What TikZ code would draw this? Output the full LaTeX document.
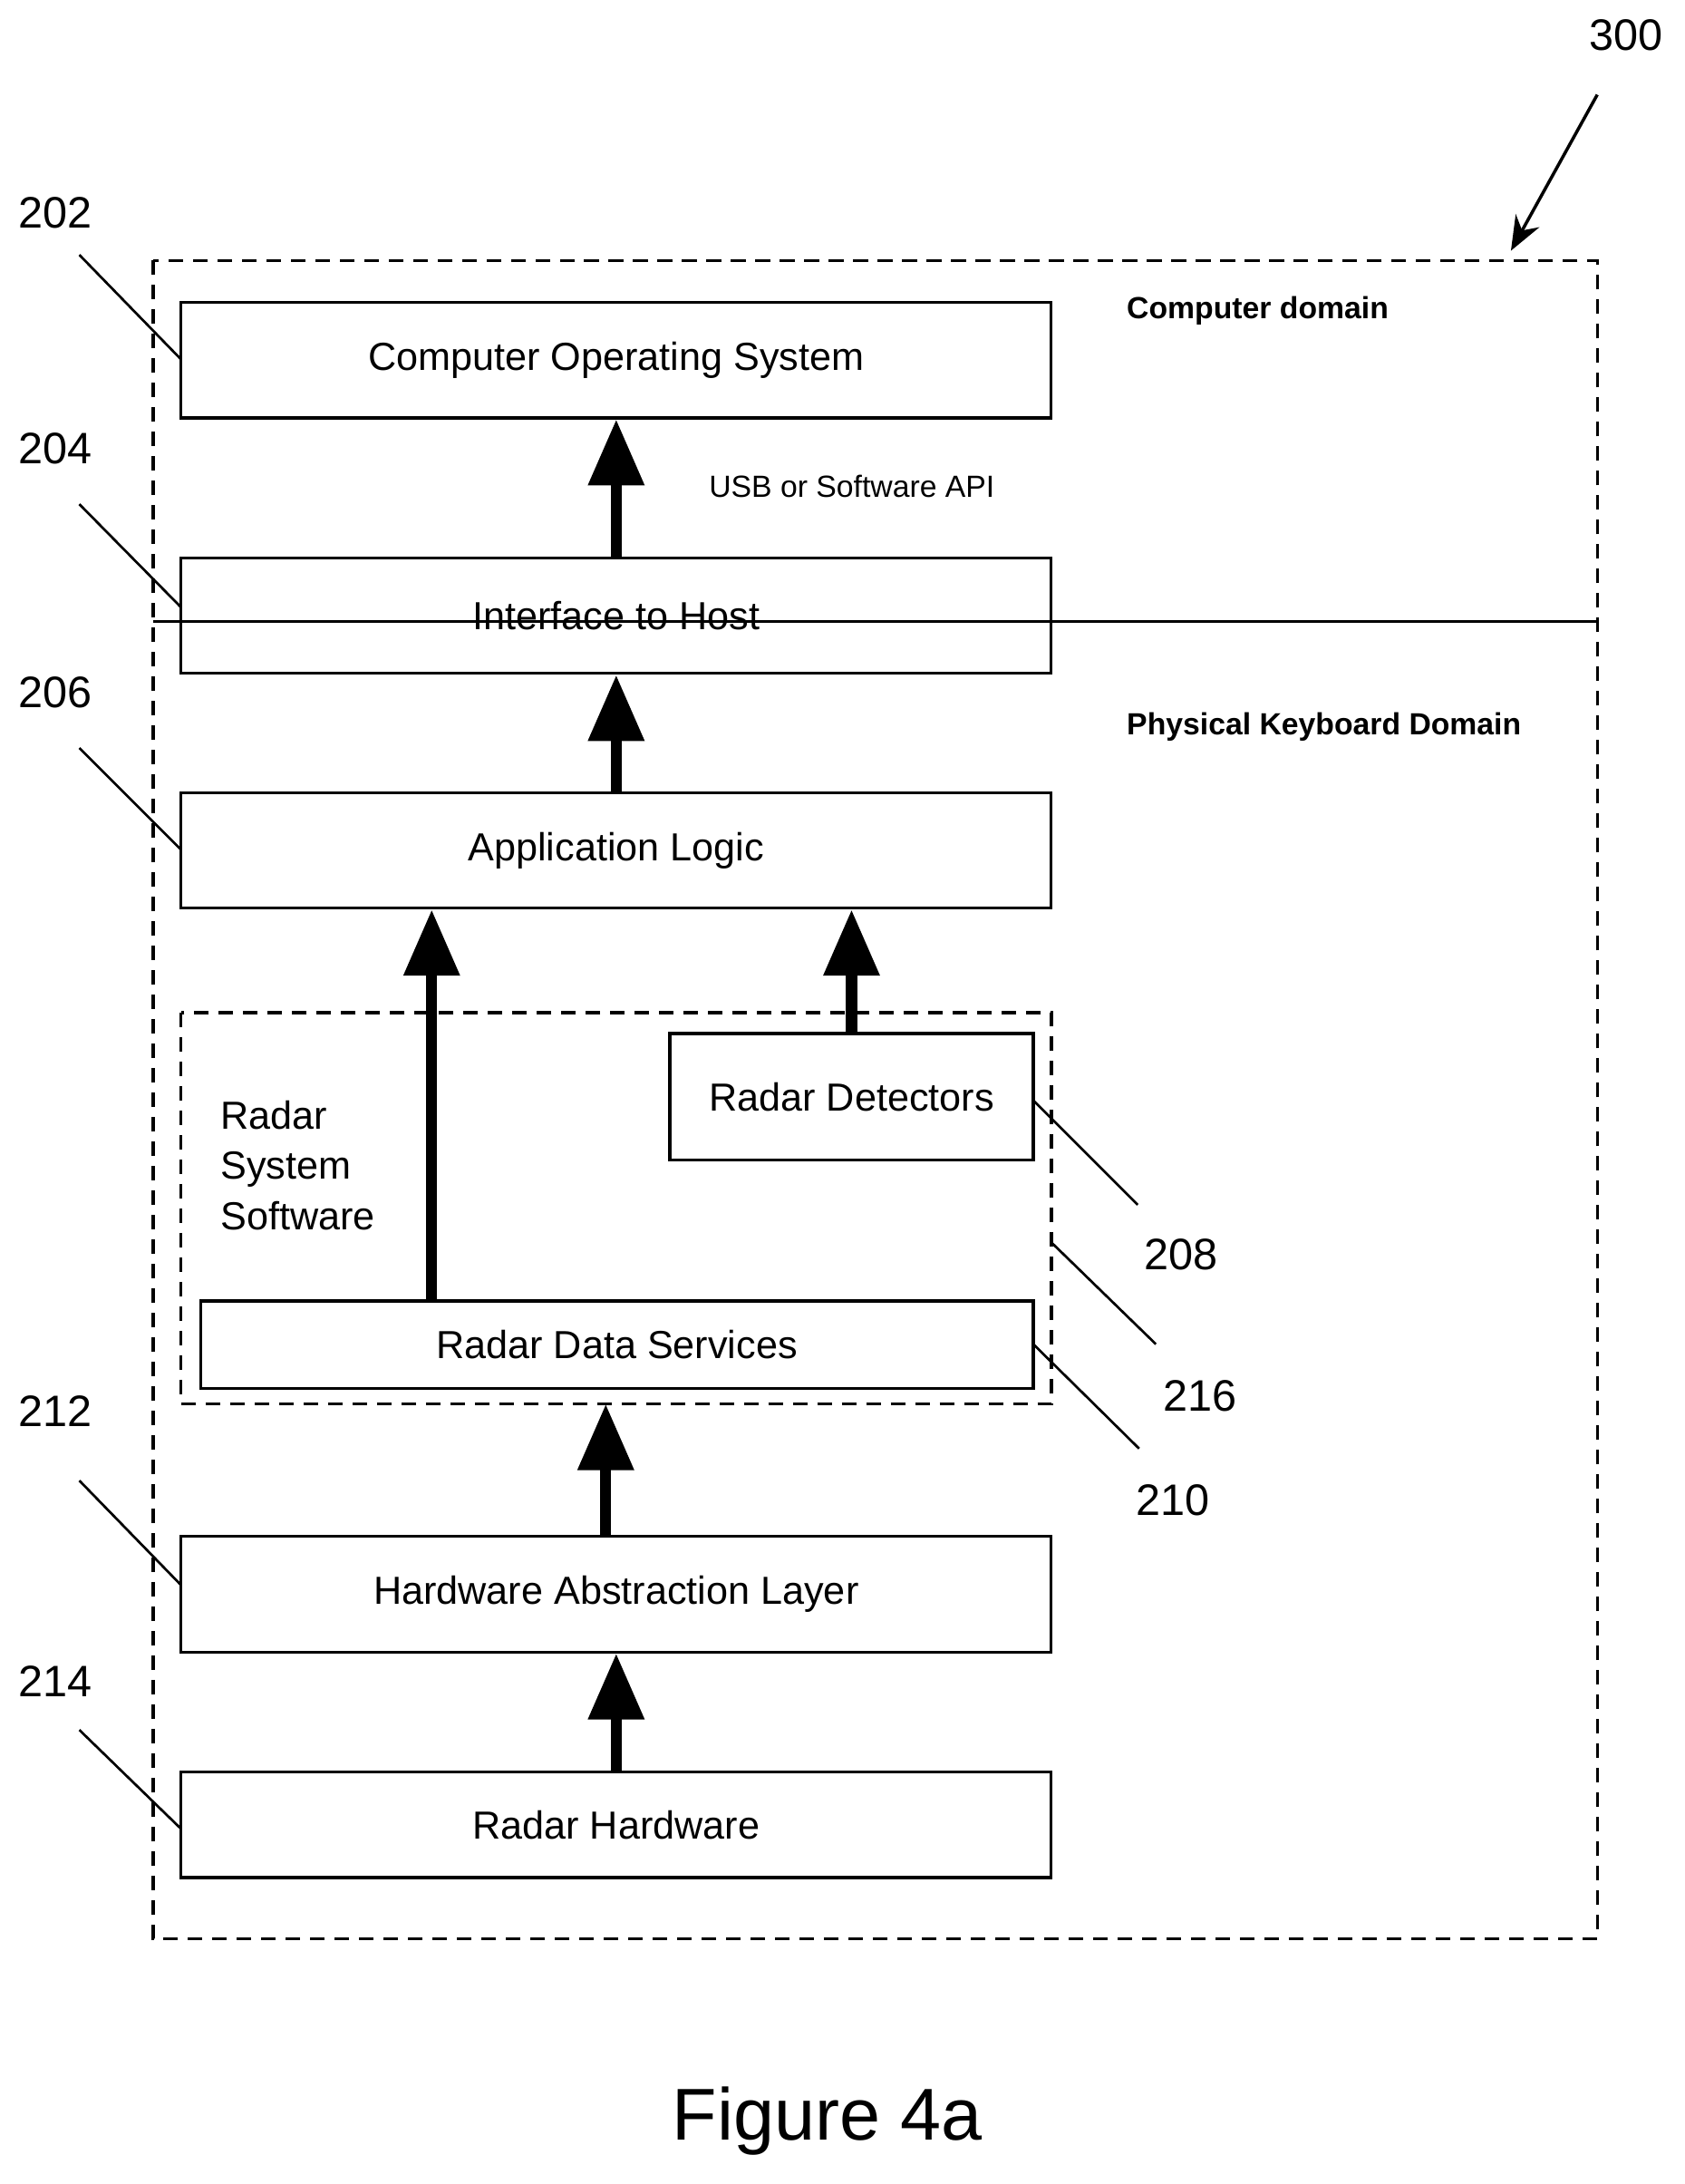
\documentclass[tikz,border=0pt]{standalone}
\usepackage{fontspec}
\setmainfont{Liberation Sans}
\usetikzlibrary{arrows.meta}
\begin{document}
\begin{tikzpicture}[x=0.02cm,y=-0.02cm,
 box/.style={draw,line width=1.2pt,minimum width=12.5cm,minimum height=1.66cm,inner sep=0pt,font=\fontsize{16}{19}\selectfont},
 dashbox/.style={draw,line width=1.2pt,dash pattern=on 6pt off 4pt},
 big/.style={line width=4.5pt,-{Triangle[width=22pt,length=27pt]}},
 lead/.style={line width=1pt},
 num/.style={font=\fontsize{18}{20}\selectfont,inner sep=0pt}]
\useasboundingbox (0,0) rectangle (1210,1568);
\draw[dashbox] (110,187) rectangle (1147,1392);
\draw[line width=1.2pt] (110,446) -- (1147,446);
\draw[dashbox] (130,727) rectangle (755,1008);
\node[box] (cos) at (442.5,258.5) {Computer Operating System};
\node[box] (ih) at (442.5,442) {Interface to Host};
\node[box] (al) at (442.5,610.5) {Application Logic};
\node[box,minimum width=5.22cm,minimum height=1.82cm] (rd) at (611.5,787.5) {Radar Detectors};
\node[box,minimum width=11.96cm,minimum height=1.26cm] (rds) at (443,965.5) {Radar Data Services};
\node[box] (hal) at (442.5,1144.5) {Hardware Abstraction Layer};
\node[box,minimum height=1.52cm] (rh) at (442.5,1310) {Radar Hardware};
\draw[big] (ih.north) -- (cos.south);
\draw[big] (al.north) -- (ih.south);
\draw[big] (rds.north -| 310,0) -- (al.south -| 310,0);
\draw[big] (rd.north) -- (al.south -| rd.north);
\draw[big] (hal.north -| 435,0) -- (435,1008);
\draw[big] (rh.north) -- (hal.south);
\node[anchor=west,font=\bfseries\fontsize{12.5}{14}\selectfont] (cd) at (803,223) {Computer domain};
\node[anchor=west,font=\bfseries\fontsize{12.5}{14}\selectfont] (pk) at (803,522) {Physical Keyboard Domain};
\node[anchor=west,font=\fontsize{12.5}{14}\selectfont] (usb) at (503,349) {USB or Software API};
\node[anchor=north west,align=left,inner sep=0pt,font=\fontsize{16}{20.5}\selectfont] (rss) at (158,790) {Radar\\System\\Software};
\node[num] (n202) at (40,153) {202}; \coordinate (c202) at (57,183); \draw[lead] (c202) -- (130,258);
\node[num] (n204) at (40,322) {204}; \coordinate (c204) at (57,362); \draw[lead] (c204) -- (130,436);
\node[num] (n206) at (40,497) {206}; \coordinate (c206) at (57,537); \draw[lead] (c206) -- (130,610);
\node[num] (n212) at (40,1013) {212}; \coordinate (c212) at (57,1063); \draw[lead] (c212) -- (130,1138);
\node[num] (n214) at (40,1207) {214}; \coordinate (c214) at (57,1242); \draw[lead] (c214) -- (130,1313);
\node[num] (n208) at (848,901) {208}; \coordinate (c208) at (817,865); \draw[lead] (742,790) -- (c208);
\node[num] (n216) at (862,1002) {216}; \coordinate (c216) at (830,965); \draw[lead] (755,892) -- (c216);
\node[num] (n210) at (842,1077) {210}; \coordinate (c210) at (818,1040); \draw[lead] (742,965) -- (c210);
\node[num] (n300) at (1168,25) {300}; \coordinate (c300) at (1147,68);
\draw[line width=1.3pt,-{Stealth[width=11pt,length=14pt]}] (c300) -- (1085,180);
\node[font=\fontsize{30}{34}\selectfont] (fig) at (594,1523) {Figure 4a};
\end{tikzpicture}
\end{document}
